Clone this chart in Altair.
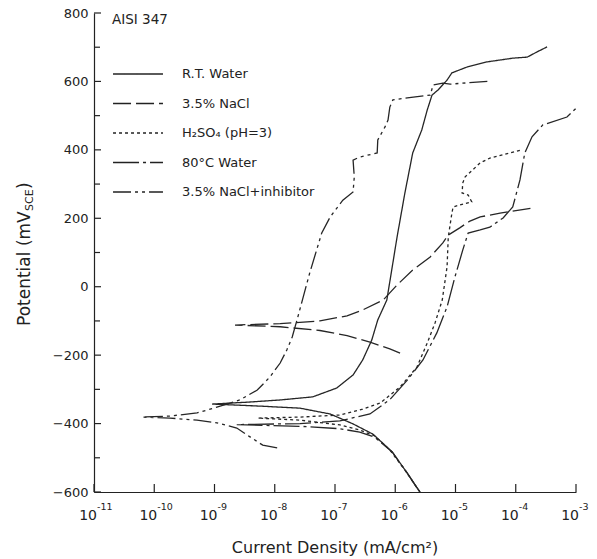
import altair as alt
import pandas as pd

series_names = ["R.T. Water", "3.5% NaCl", "H₂SO₄ (pH=3)", "80°C Water", "3.5% NaCl+inhibitor"]

# log10 of current density (mA/cm2) and potential (mV SCE), in scan order
rt_logi = [-5.59, -5.67, -5.80, -6.05, -6.37, -6.70, -7.08, -7.58, -8.24, -9.04,
           -8.41, -7.91, -7.37, -6.97, -6.70, -6.54, -6.39, -6.29, -6.14, -6.05,
           -5.97, -5.84, -5.71, -5.56, -5.47, -5.39, -5.29, -5.14, -5.06, -4.81,
           -4.48, -4.05, -3.81, -3.65, -3.48]
rt_mv = [-600, -580, -545, -483, -431, -401, -372, -355, -349, -343,
         -337, -331, -322, -296, -258, -214, -156, -97, -39, 58,
         145, 274, 391, 458, 516, 560, 575, 604, 625, 642,
         657, 668, 671, 686, 701]

nacl_logi = [-5.92, -6.09, -6.42, -6.80, -7.25, -7.91, -8.66, -7.91, -7.25, -6.80,
             -6.54, -6.20, -5.97, -5.71, -5.42, -5.21, -5.12, -4.93, -4.76, -4.59,
             -4.26, -3.73]
nacl_mv = [-194, -182, -162, -143, -128, -117, -112, -108, -100, -85,
           -68, -39, 5, 49, 87, 128, 151, 172, 192, 204,
           215, 230]

h2so4_logi = [-5.59, -5.84, -6.09, -6.34, -6.59, -6.92, -7.58, -8.28, -7.58, -6.92,
              -6.54, -6.25, -5.92, -5.64, -5.47, -5.34, -5.22, -5.14, -5.12, -5.06,
              -5.04, -4.93, -4.73, -4.79, -4.89, -4.88, -4.84, -4.59, -4.43, -3.90]
h2so4_mv = [-600, -536, -477, -436, -419, -404, -390, -384, -381, -375,
            -358, -340, -293, -235, -165, -106, -39, 58, 145, 215,
            233, 239, 248, 268, 274, 303, 321, 362, 376, 400]

hot_logi = [-5.59, -5.80, -6.05, -6.34, -6.59, -6.92, -7.58, -8.63, -7.58, -6.92,
            -6.42, -6.09, -5.80, -5.54, -5.31, -5.14, -5.01, -4.88, -4.79, -4.59,
            -4.43, -4.21, -4.05, -3.93, -3.85, -3.73, -3.55, -3.15, -2.98]
hot_mv = [-600, -545, -483, -440, -425, -415, -408, -403, -400, -392,
          -372, -330, -273, -214, -135, -59, 28, 107, 157, 166,
          174, 201, 233, 312, 391, 438, 473, 496, 525]

inh_logi = [-7.96, -8.20, -8.41, -8.63, -8.96, -9.29, -9.74, -10.20, -9.74, -9.29,
            -8.96, -8.58, -8.29, -8.08, -7.91, -7.80, -7.71, -7.63, -7.42, -7.22,
            -7.08, -6.87, -6.70, -6.68, -6.70, -6.59, -6.30, -6.29, -6.17, -6.12,
            -6.09, -6.04, -5.80, -5.42, -5.37, -5.21, -5.09, -4.43]
inh_mv = [-471, -463, -439, -413, -398, -390, -384, -381, -378, -369,
          -352, -331, -302, -264, -223, -185, -147, -97, 40, 157,
          204, 253, 277, 321, 370, 379, 391, 429, 467, 487,
          525, 546, 552, 560, 590, 595, 592, 601]

x_tick_values = [-11, -10, -9, -8, -7, -6, -5, -4, -3]
x_exponents = ["-11", "-10", "-9", "-8", "-7", "-6", "-5", "-4", "-3"]
y_major = [-600, -400, -200, 0, 200, 400, 600, 800]
y_minor = [-500, -300, -100, 100, 300, 500, 700]

x_title = "Current Density (mA/cm²)"
y_title_main = "Potential (mV"
y_title_sub = "SCE"
y_title_end = ")"
alloy_label = "AISI 347"

dashes = [[1, 0], [18, 5], [3, 3], [26, 4, 3, 4], [18, 4, 3, 4, 3, 4]]

curves = [
    (series_names[0], rt_logi, rt_mv),
    (series_names[1], nacl_logi, nacl_mv),
    (series_names[2], h2so4_logi, h2so4_mv),
    (series_names[3], hot_logi, hot_mv),
    (series_names[4], inh_logi, inh_mv),
]
rows = []
for name, lx, mv in curves:
    for i, (a, b) in enumerate(zip(lx, mv)):
        rows.append({"series": name, "i": i, "logi": a, "mv": b})
df = pd.DataFrame(rows)

FONT = "DejaVu Sans"
INK = "#222222"

xscale = alt.Scale(domain=[-11, -3], nice=False, zero=False)
yscale = alt.Scale(domain=[-600, 800], nice=False, zero=False)
xaxis = alt.Axis(labels=False, ticks=False, tickSize=0, grid=False, title=None,
                 domainColor=INK, domainWidth=1.2)
yaxis = alt.Axis(values=y_major, ticks=False, tickSize=0, grid=False, title=None,
                 labelFont=FONT, labelFontSize=13, labelColor=INK, labelPadding=6,
                 labelFlush=False, labelOverlap=False, domainColor=INK, domainWidth=1.2)

lines = alt.Chart(df).mark_line(strokeWidth=1.3, color="#262626").encode(
    x=alt.X("logi:Q", scale=xscale, axis=xaxis),
    y=alt.Y("mv:Q", scale=yscale, axis=yaxis),
    order=alt.Order("i:Q"),
    detail="series:N",
    strokeDash=alt.StrokeDash(
        "series:N",
        scale=alt.Scale(domain=series_names, range=dashes),
        legend=alt.Legend(
            orient="none", legendX=37, legendY=54, title=None, padding=0,
            symbolType="M-4,0H4", symbolSize=156, symbolStrokeWidth=1.3,
            symbolStrokeColor=INK, symbolFillColor="transparent",
            labelFont=FONT, labelFontSize=13, labelColor=INK,
            labelOffset=37, rowPadding=15.5,
        ),
    ),
)

ymaj = alt.Chart(pd.DataFrame({"v": y_major})).mark_rule(color=INK, strokeWidth=1.2).encode(
    y=alt.Y("v:Q", scale=yscale, axis=yaxis), x=alt.value(0), x2=alt.value(7))
ymin = alt.Chart(pd.DataFrame({"v": y_minor})).mark_rule(color=INK, strokeWidth=1.2).encode(
    y=alt.Y("v:Q", scale=yscale, axis=yaxis), x=alt.value(0), x2=alt.value(6))

xt_df = pd.DataFrame({"v": x_tick_values, "exp": x_exponents})
xticks = alt.Chart(xt_df).mark_rule(color=INK, strokeWidth=1.2).encode(
    x=alt.X("v:Q", scale=xscale, axis=xaxis), y=alt.value(479), y2=alt.value(471))
xlab_base = alt.Chart(xt_df).mark_text(text="10", font=FONT, fontSize=14, color=INK,
                                       align="right", baseline="alphabetic", dx=3).encode(
    x=alt.X("v:Q", scale=xscale, axis=xaxis), y=alt.value(507))
xlab_exp = alt.Chart(xt_df).mark_text(font=FONT, fontSize=9.5, color=INK,
                                      align="left", baseline="alphabetic", dx=3).encode(
    x=alt.X("v:Q", scale=xscale, axis=xaxis), y=alt.value(497), text="exp:N")

xtitle = alt.Chart(pd.DataFrame({"t": [x_title]})).mark_text(
    font=FONT, fontSize=16, color=INK, align="center", baseline="alphabetic").encode(
    text="t:N", x=alt.value(241), y=alt.value(540))

yt1 = alt.Chart(pd.DataFrame({"t": [y_title_main]})).mark_text(
    font=FONT, fontSize=17, color=INK, align="left", baseline="alphabetic", angle=270).encode(
    text="t:N", x=alt.value(-64), y=alt.value(313))
yt2 = alt.Chart(pd.DataFrame({"t": [y_title_sub]})).mark_text(
    font=FONT, fontSize=11, color=INK, align="left", baseline="alphabetic", angle=270).encode(
    text="t:N", x=alt.value(-61), y=alt.value(198))
yt3 = alt.Chart(pd.DataFrame({"t": [y_title_end]})).mark_text(
    font=FONT, fontSize=17, color=INK, align="left", baseline="alphabetic", angle=270).encode(
    text="t:N", x=alt.value(-64), y=alt.value(176))

note = alt.Chart(pd.DataFrame({"t": [alloy_label]})).mark_text(
    font=FONT, fontSize=13.5, color=INK, align="left", baseline="middle").encode(
    text="t:N", x=alt.value(18), y=alt.value(7))

chart = alt.layer(lines, ymaj, ymin, xticks, xlab_base, xlab_exp, xtitle, yt1, yt2, yt3, note).properties(
    width=482, height=479,
    autosize=alt.AutoSizeParams(type="none"),
    padding={"left": 94, "top": 13, "right": 21, "bottom": 67},
).configure_view(stroke=None)

chart.save("out.html", embed_options={"renderer": "svg", "actions": False})
